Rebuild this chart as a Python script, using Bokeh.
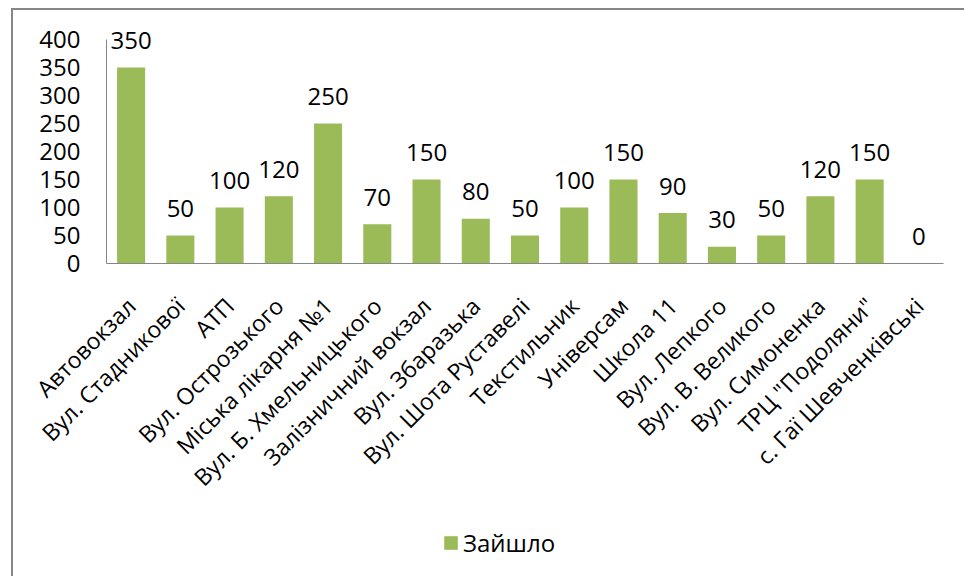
import math
from bokeh.plotting import figure
from bokeh.layouts import column, row
from bokeh.models import ColumnDataSource, Range1d, FixedTicker, Legend, LegendItem, Spacer
from bokeh.core.properties import value
from bokeh.embed import file_html
from bokeh.resources import INLINE

categories = ["Автовокзал", "Вул. Стадникової", "АТП", "Вул. Острозького",
              "Міська лікарня №1", "Вул. Б. Хмельницького", "Залізничний вокзал",
              "Вул. Збаразька", "Вул. Шота Руставелі", "Текстильник", "Універсам",
              "Школа 11", "Вул. Лепкого", "Вул. В. Великого", "Вул. Симоненка",
              "ТРЦ \"Подоляни\"", "с. Гаї Шевченківські"]
values = [350, 50, 100, 120, 250, 70, 150, 80, 50, 100, 150, 90, 30, 50, 120, 150, 0]
y_ticks = [0, 50, 100, 150, 200, 250, 300, 350, 400]
series_name = "Зайшло"

FONT = "Open Sans"
GREEN = "#9BBB59"
GRAY = "#868686"

# geometry (page pixels): chart frame spans y 12..263, value axis 0..400 spans y 39..263
AXIS_MAX = y_ticks[-1]
FRAME_TOP_PAD = 27  # pixels of frame above the top tick, so labels above bars are not clipped
Y_END = AXIS_MAX * (224 + FRAME_TOP_PAD) / 224

src = ColumnDataSource(dict(cat=categories, val=values, lbl=[str(v) for v in values]))

p = figure(x_range=categories, y_range=Range1d(0, Y_END), width=951, height=510,
           output_backend="svg", toolbar_location=None,
           min_border_left=93, min_border_right=21, min_border_top=2, min_border_bottom=257)
p.outline_line_color = None
p.xgrid.grid_line_color = None
p.ygrid.grid_line_color = None
p.background_fill_color = "white"
p.border_fill_color = "white"

p.vbar(x="cat", top="val", width=0.57, source=src, fill_color=GREEN, line_color=None)

p.text(x="cat", y="val", text="lbl", source=src, text_align="center",
       text_baseline="alphabetic", y_offset=-27, text_font_size="24px",
       text_font=value(FONT), text_color="#000000")

# axes
p.yaxis.ticker = FixedTicker(ticks=y_ticks)
p.yaxis.bounds = (0, AXIS_MAX)
p.yaxis.major_tick_line_color = None
p.yaxis.minor_tick_line_color = None
p.yaxis.major_tick_out = 0
p.yaxis.major_tick_in = 0
p.yaxis.major_label_standoff = 26
p.yaxis.axis_line_color = GRAY
p.yaxis.major_label_text_font = FONT
p.yaxis.major_label_text_font_size = "24px"
p.yaxis.major_label_text_color = "#000000"

p.xaxis.major_tick_line_color = None
p.xaxis.major_tick_out = 0
p.xaxis.major_tick_in = 0
p.xaxis.major_label_orientation = math.pi / 4
p.xaxis.major_label_standoff = 38
p.xaxis.axis_line_color = GRAY
p.xaxis.major_label_text_font = FONT
p.xaxis.major_label_text_font_size = "23px"
p.xaxis.major_label_text_color = "#000000"

# legend strip below the chart (same side borders as the chart, since column aligns frames)
lg = figure(width=951, height=56, output_backend="svg", toolbar_location=None,
            x_range=Range1d(0, 1), y_range=Range1d(0, 1),
            min_border_left=93, min_border_right=21, min_border_top=0, min_border_bottom=5)
lg.axis.visible = False
lg.grid.visible = False
lg.outline_line_color = None
lg.background_fill_color = "white"
lg.border_fill_color = "white"
dummy = lg.vbar(x=[-10], top=[-10], width=0.5, fill_color=GREEN, line_color=None)
legend = Legend(items=[LegendItem(label=series_name, renderers=[dummy])],
                location=(336, 12), orientation="horizontal",
                border_line_color=None, background_fill_alpha=0,
                padding=0, margin=0, glyph_width=17, glyph_height=17,
                label_standoff=4, label_text_font=FONT, label_text_font_size="24px",
                label_text_color="#000000")
lg.add_layout(legend, "center")

# chart-area border: left and top edges
top_line = row(Spacer(width=11, height=2),
               Spacer(width=953, height=2, styles={"background-color": GRAY}),
               spacing=0)
body = row(Spacer(width=11, height=566),
           Spacer(width=2, height=566, styles={"background-color": GRAY}),
           column(p, lg, spacing=0), spacing=0)
layout = column(Spacer(width=964, height=8), top_line, body, spacing=0)

open("out.html", "w").write(file_html(layout, INLINE))
